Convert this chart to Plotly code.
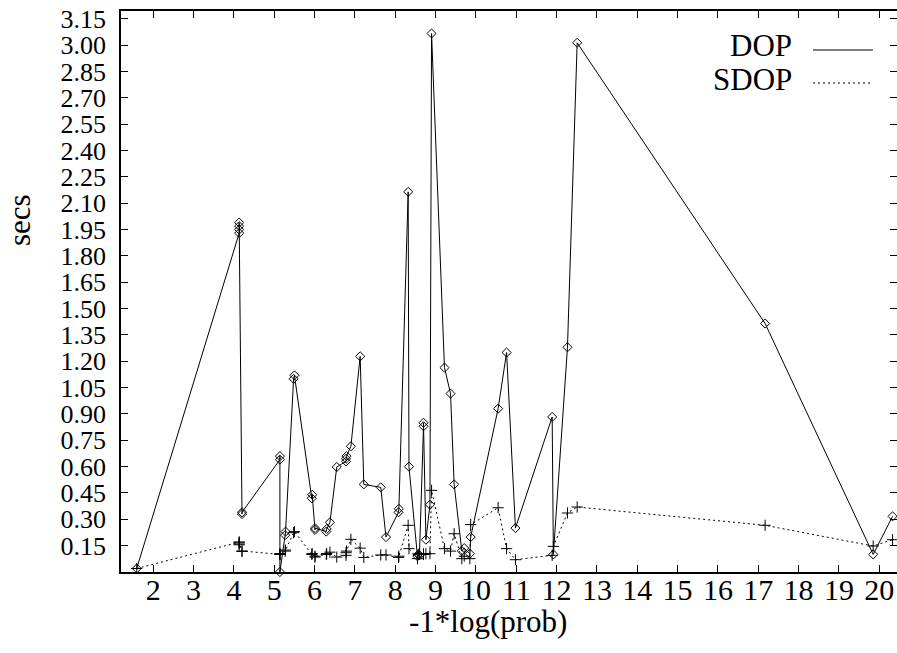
import plotly.graph_objects as go

# -1*log(prob) for each problem
x_vals = [1.59, 4.13, 4.13, 4.13, 4.13, 4.20, 4.20, 5.14, 5.14, 5.14,
          5.27, 5.28, 5.48, 5.50, 5.93, 5.94, 6.01, 6.01, 6.29, 6.30,
          6.38, 6.55, 6.78, 6.78, 6.79, 6.90, 7.13, 7.22, 7.64, 7.77,
          8.08, 8.09, 8.32, 8.34, 8.55, 8.57, 8.60, 8.70, 8.70, 8.76,
          8.86, 8.90, 9.22, 9.37, 9.46, 9.65, 9.71, 9.85, 9.87, 10.55,
          10.76, 10.98, 11.89, 11.92, 12.27, 12.51, 17.17, 19.85, 20.33]

dop_secs = [0.02, 1.93, 1.95, 1.97, 1.99, 0.33, 0.34, 0.64, 0.66, 0.00,
            0.21, 0.23, 1.10, 1.12, 0.42, 0.44, 0.24, 0.25, 0.23, 0.245,
            0.283, 0.598, 0.63, 0.645, 0.66, 0.716, 1.228, 0.499, 0.482, 0.199,
            0.34, 0.36, 2.165, 0.60, 0.09, 0.10, 0.095, 0.83, 0.85, 0.184,
            0.383, 3.067, 1.164, 1.016, 0.499, 0.12, 0.136, 0.104, 0.199, 0.93,
            1.25, 0.25, 0.883, 0.10, 1.28, 3.014, 1.415, 0.10, 0.317]

sdop_secs = [0.02, 0.17, 0.16, 0.155, 0.17, 0.117, 0.12, 0.10, 0.105, 0.10,
             0.119, 0.125, 0.224, 0.23, 0.10, 0.105, 0.085, 0.09, 0.10, 0.105,
             0.113, 0.085, 0.095, 0.11, 0.119, 0.186, 0.136, 0.083, 0.097, 0.097,
             0.083, 0.09, 0.266, 0.133, 0.076, 0.10, 0.104, 0.104, 0.10, 0.104,
             0.104, 0.465, 0.133, 0.119, 0.218, 0.076, 0.09, 0.076, 0.27, 0.366,
             0.133, 0.07, 0.095, 0.146, 0.336, 0.37, 0.266, 0.148, 0.184]

x_ticks = list(range(2, 21))
y_ticks = [round(0.15 * i, 2) for i in range(1, 22)]
y_tick_text = ["%.2f" % v for v in y_ticks]

FONT = "Liberation Serif"
W, H = 897, 653
ML, MR, MT, MB = 121, 0, 11, 81
PW, PH = W - ML - MR, H - MT - MB


def px(xp):
    return (xp - ML) / PW


def py(yp):
    return 1 - (yp - MT) / PH


fig = go.Figure()
fig.add_trace(go.Scatter(
    x=x_vals, y=dop_secs, mode="lines+markers", name="DOP",
    line=dict(color="black", width=1),
    marker=dict(symbol="diamond-open", size=7, color="black", line=dict(width=1, color="black")),
    showlegend=False, cliponaxis=False))
fig.add_trace(go.Scatter(
    x=x_vals, y=sdop_secs, mode="lines+markers", name="SDOP",
    line=dict(color="black", width=1, dash="2px,3px"),
    marker=dict(symbol="cross-thin-open", size=8, color="black", line=dict(width=1, color="black")),
    showlegend=False, cliponaxis=False))

axis_common = dict(
    showline=True, linecolor="black", linewidth=1.5, mirror="ticks",
    ticks="inside", ticklen=7, tickwidth=1, tickcolor="black",
    showgrid=False, zeroline=False, automargin=False,
)

fig.update_layout(
    width=W, height=H,
    margin=dict(l=ML, r=MR, t=MT, b=MB, pad=0),
    paper_bgcolor="white", plot_bgcolor="white",
    font=dict(family=FONT, color="black", size=30),
    xaxis=dict(range=[1.2, 20.44], tickvals=x_ticks, tickfont=dict(size=30),
               ticklabelstandoff=-10, **axis_common),
    yaxis=dict(range=[0, 3.195], tickvals=y_ticks, ticktext=y_tick_text,
               tickfont=dict(size=26), ticklabelstandoff=8, **axis_common),
)

# axis titles
fig.add_annotation(x=px(19), y=py(220), xref="paper", yref="paper", text="secs",
                   showarrow=False, textangle=-90, xanchor="center", yanchor="middle",
                   font=dict(family=FONT, size=31, color="black"))
fig.add_annotation(x=px(488), y=py(621), xref="paper", yref="paper", text="-1*log(prob)",
                   showarrow=False, xanchor="center", yanchor="middle",
                   font=dict(family=FONT, size=31, color="black"))

# key (gnuplot style: text right-aligned, sample to its right)
fig.add_annotation(x=px(794), y=py(46), xref="paper", yref="paper", text="DOP",
                   showarrow=False, xanchor="right", yanchor="middle",
                   font=dict(family=FONT, size=31, color="black"))
fig.add_annotation(x=px(794), y=py(79), xref="paper", yref="paper", text="SDOP",
                   showarrow=False, xanchor="right", yanchor="middle",
                   font=dict(family=FONT, size=31, color="black"))
fig.add_shape(type="line", xref="paper", yref="paper", x0=px(813), x1=px(873),
              y0=py(50), y1=py(50), line=dict(color="black", width=1))
fig.add_shape(type="line", xref="paper", yref="paper", x0=px(813), x1=px(873),
              y0=py(83), y1=py(83), line=dict(color="black", width=1, dash="2px,3px"))

fig.write_html("out.html", config={"displayModeBar": False},
               post_script="document.body.style.margin='0px';")
